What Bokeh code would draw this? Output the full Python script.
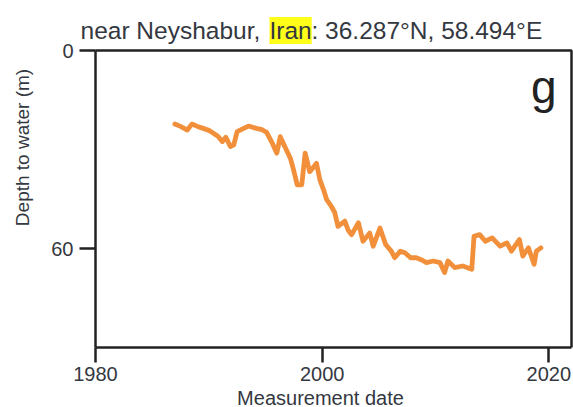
from bokeh.plotting import figure
from bokeh.models import Label, FixedTicker, Range1d, LinearAxis
from bokeh.embed import file_html
from bokeh.resources import INLINE
import math

# ---- data ----
years = [1987.0, 1987.5, 1988.1, 1988.5, 1989.0, 1989.5, 1990.0, 1990.4, 1990.8, 1991.2,
         1991.5, 1991.9, 1992.2, 1992.5, 1992.9, 1993.5, 1994.2, 1994.7, 1995.1, 1995.6,
         1996.0, 1996.3, 1996.7, 1997.2, 1997.5, 1997.8, 1998.2, 1998.5, 1998.9, 1999.2,
         1999.5, 1999.8, 2000.1, 2000.4, 2000.8, 2001.1, 2001.4, 2002.0, 2002.3, 2002.6,
         2003.2, 2003.6, 2004.2, 2004.5, 2005.1, 2005.6, 2006.1, 2006.4, 2006.9, 2007.3,
         2007.8, 2008.3, 2008.8, 2009.2, 2009.8, 2010.4, 2010.8, 2011.1, 2011.7, 2012.4,
         2013.2, 2013.4, 2013.9, 2014.4, 2015.0, 2015.7, 2016.3, 2016.7, 2017.4, 2017.7,
         2018.2, 2018.7, 2018.9, 2019.3]
depth = [22.3, 23.0, 24.1, 22.3, 23.0, 23.6, 24.2, 25.1, 26.0, 27.6,
         26.3, 29.1, 28.6, 24.6, 23.9, 22.9, 23.6, 24.0, 24.8, 28.1,
         31.1, 26.1, 29.1, 32.7, 36.5, 40.7, 40.7, 31.1, 36.7, 35.5,
         34.2, 39.2, 42.0, 45.2, 47.2, 49.0, 53.3, 51.7, 54.5, 55.8,
         52.2, 57.8, 55.3, 59.3, 53.8, 58.8, 60.8, 62.8, 60.8, 61.3,
         62.8, 62.8, 63.5, 64.3, 63.8, 64.3, 67.3, 63.8, 65.8, 65.3,
         66.3, 56.3, 55.8, 57.8, 56.8, 59.3, 58.3, 60.8, 57.3, 62.3,
         59.8, 64.8, 60.8, 59.8]
x_ticks = [1980, 2000, 2020]
y_ticks = [0, 60]
title_parts = ["near Neyshabur, ", "Iran", ": 36.287°N, 58.494°E"]
panel_letter = "g"

FONT = "Liberation Sans"
TXT = "#343841"
AX = "#222222"
W, H = 573, 407

# axes box (data) and where it sits on the canvas (pixels)
X0, X1 = 1980, 2022
Y0, Y1 = 0, 90
BL, BR, BT, BB = 95, 571, 50, 347
kx = (BR - BL) / (X1 - X0)
ky = (BB - BT) / (Y1 - Y0)

def dx(px):
    return X0 + (px - BL) / kx
def dy(py):
    return Y0 + (py - BT) / ky

p = figure(width=W, height=H, output_backend="svg", toolbar_location=None,
           x_range=Range1d(dx(0), dx(W)), y_range=Range1d(dy(H), dy(0)),
           min_border=0, x_axis_type=None, y_axis_type=None)
p.background_fill_color = "white"
p.border_fill_color = "white"
p.grid.visible = False
p.outline_line_color = None

xa = LinearAxis(fixed_location=Y1, bounds=(X0, X1), ticker=FixedTicker(ticks=x_ticks))
ya = LinearAxis(fixed_location=X0, bounds=(Y0, Y1), ticker=FixedTicker(ticks=y_ticks))
for ax in (xa, ya):
    ax.axis_line_color = AX
    ax.axis_line_width = 2.5
    ax.major_tick_line_color = AX
    ax.major_tick_line_width = 2.5
    ax.major_tick_in = 0
    ax.minor_tick_line_color = None
    ax.major_label_text_font = FONT
    ax.major_label_text_font_size = "20px"
    ax.major_label_text_color = TXT
xa.major_tick_out = 15
ya.major_tick_out = 16
xa.major_label_standoff = 4
ya.major_label_standoff = 6
p.add_layout(xa, "below")
p.add_layout(ya, "left")

# top and right edges of the axes box
p.line([X0, X1, X1], [Y0, Y0, Y1], line_color=AX, line_width=2.5)

p.line(years, depth, line_color="#F18F3B", line_width=4.8, line_join="round", line_cap="round")

# title pieces
ty = dy(30)
p.add_layout(Label(x=dx(80), y=ty, text=title_parts[0], text_font=FONT, text_font_size="24.5px",
                   text_color=TXT, text_baseline="alphabetic", text_align="left"))
p.add_layout(Label(x=dx(269), y=ty, text=title_parts[1], text_font=FONT, text_font_size="24.5px",
                   text_color=TXT, text_baseline="alphabetic", text_align="left",
                   background_fill_color="#FFFF1A", padding=0))
p.add_layout(Label(x=dx(311), y=ty, text=title_parts[2], text_font=FONT, text_font_size="24.5px",
                   text_color=TXT, text_baseline="alphabetic", text_align="left"))

# axis titles
p.add_layout(Label(x=dx(22), y=dy(147), text="Depth to water (m)", text_font=FONT,
                   text_font_size="19px", text_color=TXT, angle=math.pi / 2,
                   text_align="center", text_baseline="middle"))
p.add_layout(Label(x=dx(320), y=dy(397), text="Measurement date", text_font=FONT,
                   text_font_size="20px", text_color=TXT,
                   text_align="center", text_baseline="middle"))

# panel letter
p.add_layout(Label(x=dx(556), y=dy(86), text=panel_letter, text_font=FONT,
                   text_font_size="46px", text_color=AX,
                   text_align="right", text_baseline="alphabetic"))

open("out.html", "w").write(file_html(p, INLINE))
